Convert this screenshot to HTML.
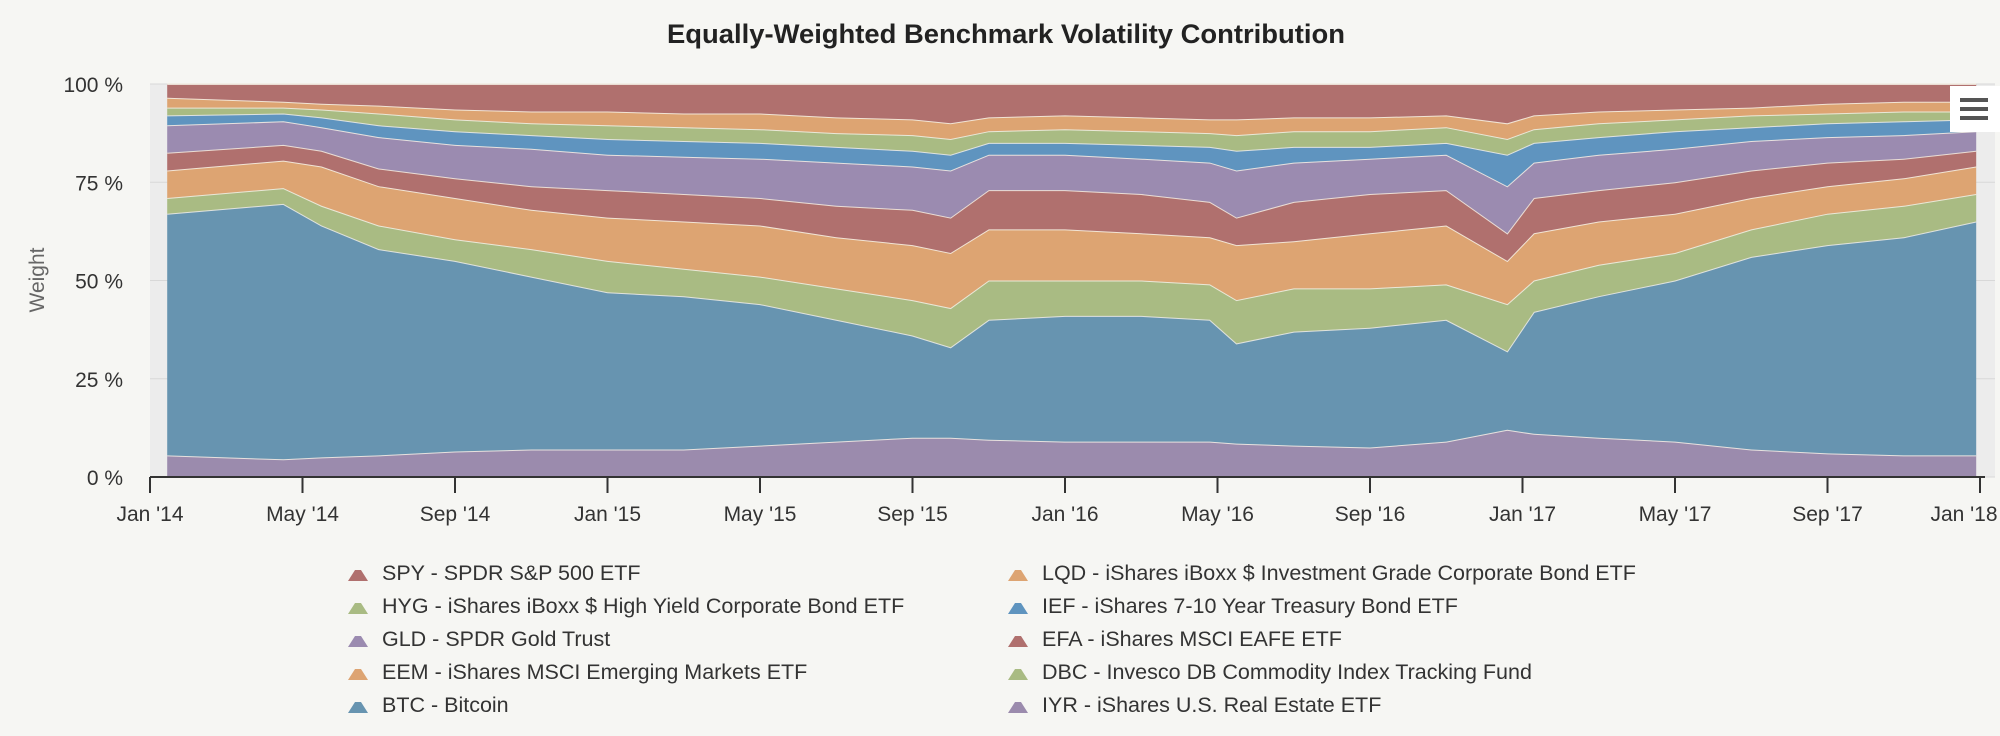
<!DOCTYPE html>
<html><head><meta charset="utf-8">
<style>
html,body{margin:0;padding:0;background:#f6f6f3;}
svg{display:block;font-family:"Liberation Sans",sans-serif;}
</style></head>
<body>
<svg id="chart" width="2000" height="736" viewBox="0 0 2000 736">
<rect x="0" y="0" width="2000" height="736" fill="#f6f6f3"/>
<text x="1006" y="43" text-anchor="middle" font-size="27" font-weight="bold" fill="#222" textLength="678" lengthAdjust="spacingAndGlyphs">Equally-Weighted Benchmark Volatility Contribution</text>
<rect x="150" y="84" width="1845" height="393" fill="#ececec"/>
<g id="grid"></g>
<g id="areas"></g>
<g id="axes"></g>
<text transform="translate(44,280) rotate(-90)" text-anchor="middle" font-size="21" fill="#666">Weight</text>
<g>
<rect x="1950" y="86" width="50" height="46" fill="#ffffff"/>
<rect x="1960" y="98" width="28" height="4" fill="#555"/>
<rect x="1960" y="107" width="28" height="4" fill="#555"/>
<rect x="1960" y="116" width="28" height="4" fill="#555"/>
</g>
<g id="legend"></g>
</svg>
<script>
// month offsets from Jan 2014
const months=[0.45,3.5,4.5,6,8,10,12,14,16,18,20,21,22,24,26,27.8,28.5,30,32,34,35.6,36.3,38,40,42,44,46,47.9];
const seriesNames=["SPY - SPDR S&P 500 ETF","LQD - iShares iBoxx $ Investment Grade Corporate Bond ETF","HYG - iShares iBoxx $ High Yield Corporate Bond ETF","IEF - iShares 7-10 Year Treasury Bond ETF","GLD - SPDR Gold Trust","EFA - iShares MSCI EAFE ETF","EEM - iShares MSCI Emerging Markets ETF","DBC - Invesco DB Commodity Index Tracking Fund","BTC - Bitcoin","IYR - iShares U.S. Real Estate ETF"];
const seriesColors=["#b0706e","#dda472","#a9bb83","#5f94bf","#9b8bb0","#b0706e","#dda472","#a9bb83","#6794b0","#9b8bad"];
const SPY=[3.5,4.5,5,5.5,6.5,7,7,7.5,7.5,8.5,9,10,8.5,8,8.5,9,9,8.5,8.5,8,10,8,7,6.5,6,5,4.5,4.5];
const LQD=[2.5,1.5,1.5,2,2.5,3,3.5,3.5,4,4,4,4,3.5,3.5,3.5,3.5,4,3.5,3.5,3,4,3.5,3,2.5,2,2.5,2.5,2.5];
const HYG=[2,1.5,2,3,3,3,3.5,3.5,3.5,3.5,4,4,3,3.5,3.5,3.5,4,4,4,4,4,3.5,3.5,3,3,2.5,2.5,2];
const IEF=[2.5,2,2.5,3,3.5,3.5,4,4,4,4,4,4,3,3,3.5,4,5,4,3,3,8,5,4.5,4.5,3.5,3.5,3.5,3];
const GLD=[7,6,6,8,8.5,9.5,9,9.5,10,11,11,12,9,9,9,10,12,10,9,9,12,9,9,8.5,7.5,6.5,6,5];
const EFA=[4.5,4,4,4.5,5,6,7,7,7,8,9,9,10,10,10,9,7,10,10,9,7,9,8,8,7,6,5,4];
const EEM=[7,7,10,10,10.5,10,11,12,13,13,14,14,13,13,12,12,14,12,14,15,11,12,11,10,8,7,7,7];
const DBC=[4,4,5,6,5.5,7,8,7,7,8,9,10,10,9,9,9,11,11,10,9,12,8,8,7,7,8,8,7];
const BTC=[61.5,65,59,52.5,48.5,44,40,39,36,31,26,23,30.5,32,32,31,25.5,29,30.5,31,20,31,36,41,49,53,55.5,59.5];
const IYR=[5.5,4.5,5,5.5,6.5,7,7,7,8,9,10,10,9.5,9,9,9,8.5,8,7.5,9,12,11,10,9,7,6,5.5,5.5];
const seriesData=[SPY,LQD,HYG,IEF,GLD,EFA,EEM,DBC,BTC,IYR];
const yTicks=[0,25,50,75,100];
const xTickLabels=["Jan '14","May '14","Sep '14","Jan '15","May '15","Sep '15","Jan '16","May '16","Sep '16","Jan '17","May '17","Sep '17","Jan '18"];

const NS="http://www.w3.org/2000/svg";
const X0=150,X1=1980,Y0=477,Y1=84;
const xs=m=>X0+m/48*(X1-X0);
const ys=v=>Y0-v/100*(Y0-Y1);
function mk(tag,attrs,parent){const e=document.createElementNS(NS,tag);for(const k in attrs)e.setAttribute(k,attrs[k]);parent.appendChild(e);return e;}
const grid=document.getElementById('grid'),areas=document.getElementById('areas'),axes=document.getElementById('axes'),legend=document.getElementById('legend');
yTicks.forEach(t=>{
  const l=mk('line',{x1:X0,x2:1995,y1:ys(t),y2:ys(t),stroke:'#d8d8d8','stroke-width':1},grid);
  
  
  const tx=mk('text',{x:123,y:ys(t)+8,'text-anchor':'end','font-size':21,fill:'#333'},axes);
  tx.textContent=t+' %';
  
  
});
// percent stacking: first series on top
const n=months.length;
const totals=months.map((_,i)=>seriesData.reduce((s,a)=>s+a[i],0));
let base=new Array(n).fill(0);
for(let s=seriesData.length-1;s>=0;s--){
  const top=base.map((b,i)=>b+seriesData[s][i]/totals[i]*100);
  let d='M'+months.map((m,i)=>xs(m).toFixed(1)+','+ys(top[i]).toFixed(1)).join(' L');
  for(let i=n-1;i>=0;i--) d+=' L'+xs(months[i]).toFixed(1)+','+ys(base[i]).toFixed(1);
  d+=' Z';
  const p=mk('path',{d:d,fill:seriesColors[s]},areas);
  
  
  const ln=mk('path',{d:'M'+months.map((m,i)=>xs(m).toFixed(1)+','+ys(top[i]).toFixed(1)).join(' L'),fill:'none',stroke:'#f4f0e6','stroke-width':2,'stroke-opacity':0.85},areas);
  
  
  base=top;
}
const ax=mk('line',{x1:X0,x2:1985,y1:Y0,y2:Y0,stroke:'#333','stroke-width':2},axes);


xTickLabels.forEach((lab,i)=>{
  const x=xs(i*4);
  const t=mk('line',{x1:x,x2:x,y1:Y0,y2:Y0+16,stroke:'#333','stroke-width':2},axes);
  
  
  const lx=i===xTickLabels.length-1?x-16:x;
  const tx=mk('text',{x:lx,y:521,'text-anchor':'middle','font-size':21,fill:'#333'},axes);
  tx.textContent=lab;
  
  
});
seriesNames.forEach((nm,i)=>{
  const col=i%2,row=Math.floor(i/2);
  const x=col?1008:348,y=572+row*33;
  const g=mk('g',{},legend);
  
  
  mk('path',{d:`M${x} ${y+9} L${x+7} ${y-2} L${x+13} ${y-2} L${x+20} ${y+9} Z`,fill:seriesColors[i]},g);
  const tx=mk('text',{x:x+34,y:y+8,'font-size':21.5,fill:'#333'},g);
  tx.textContent=nm;
});
</script>
</body></html>
